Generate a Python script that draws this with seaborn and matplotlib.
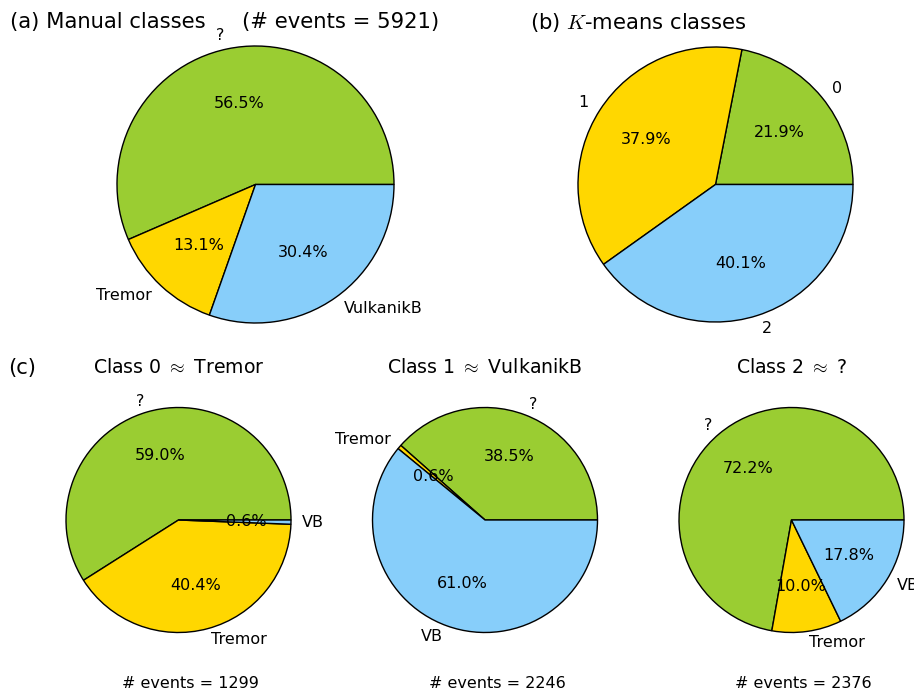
import matplotlib
matplotlib.use("Agg")
import matplotlib.pyplot as plt
import seaborn as sns

sns.set_style("white")
plt.rcParams["font.family"] = ["DejaVu Sans"]
plt.rcParams["mathtext.fontset"] = "cm"
plt.rcParams["text.color"] = "black"

# Manual classification of all events
manual_labels = ["?", "Tremor", "VulkanikB"]
manual_pct = [56.5, 13.1, 30.4]
total_events = 5921

# K-means clustering result
kmeans_labels = ["0", "1", "2"]
kmeans_pct = [21.9, 37.9, 40.1]

# Manual composition of each K-means class
class_labels = ["?", "Tremor", "VB"]
class0_pct = [59.0, 40.4, 0.6]
class1_pct = [38.5, 0.6, 61.0]
class2_pct = [72.2, 10.0, 17.8]
class_titles = ["Class 0 $\\approx$ Tremor", "Class 1 $\\approx$ VulkanikB", "Class 2 $\\approx$ ?"]
class_events = [1299, 2246, 2376]

colors = ["yellowgreen", "gold", "lightskyblue"]

W, H = 914, 692
fig = plt.figure(figsize=(W / 100, H / 100), dpi=100)


def pie_axes(cx, cy, r):
    size = 2.5 * r
    return fig.add_axes([(cx - size / 2) / W, (H - cy - size / 2) / H, size / W, size / H])


def draw_pie(ax, values, labels, fs=11.5):
    it = iter(values)
    ax.pie(values, labels=labels, colors=colors, startangle=0,
           autopct=lambda p: f"{next(it):.1f}%",
           wedgeprops=dict(edgecolor="black", linewidth=1),
           textprops=dict(fontsize=fs, color="black"))
    ax.set_aspect("equal")


ax_a = pie_axes(255.5, 184.5, 138.5)
draw_pie(ax_a, manual_pct, manual_labels)
ax_b = pie_axes(715.5, 184.5, 137.5)
draw_pie(ax_b, kmeans_pct, kmeans_labels)

fig.text(10 / W, 1 - 22 / H, "(a) Manual classes", fontsize=15.2, va="center", ha="left")
fig.text(242 / W, 1 - 22 / H, f"(# events = {total_events})", fontsize=15.2, va="center", ha="left")
fig.text(530 / W, 1 - 22 / H, "(b) $K$-means classes", fontsize=15.2, va="center", ha="left")
fig.text(8 / W, 1 - 368 / H, "(c)", fontsize=15.2, va="center", ha="left")

centers = [178.5, 485.0, 791.5]
for cx, vals, title, n in zip(centers, [class0_pct, class1_pct, class2_pct], class_titles, class_events):
    ax = pie_axes(cx, 520, 112.5)
    draw_pie(ax, vals, class_labels)
    fig.text(cx / W, 1 - 368 / H, title, fontsize=13.6, va="center", ha="center")
    fig.text((cx + 12) / W, 1 - 683 / H, f"# events = {n}", fontsize=11.5, va="center", ha="center")

fig.savefig("out.png", dpi=100, facecolor="white")
